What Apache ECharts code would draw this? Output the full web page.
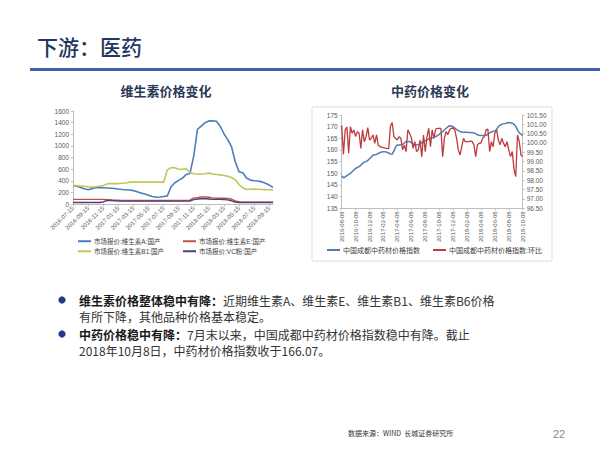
<!DOCTYPE html>
<html>
<head>
<meta charset="utf-8">
<script src="https://cdn.jsdelivr.net/npm/echarts@6/dist/echarts.min.js"></script>
<style>html,body{margin:0;padding:0;background:#fff}#c{width:600px;height:456px}</style>
</head>
<body>
<div id="c"></div>
<script>
// ---- Left chart: vitamin prices (semi-monthly) ----
const vitDates = [
'2016-07-15','2016-07-31','2016-08-15','2016-08-31','2016-09-15','2016-09-30','2016-10-15','2016-10-31','2016-11-15','2016-11-30','2016-12-15','2016-12-31',
'2017-01-15','2017-01-31','2017-02-15','2017-02-28','2017-03-15','2017-03-31','2017-04-15','2017-04-30','2017-05-15','2017-05-31','2017-06-15','2017-06-30',
'2017-07-15','2017-07-31','2017-08-15','2017-08-31','2017-09-15','2017-09-30','2017-10-15','2017-10-31','2017-11-15','2017-11-30','2017-12-15','2017-12-31',
'2018-01-15','2018-01-31','2018-02-15','2018-02-28','2018-03-15','2018-03-31','2018-04-15','2018-04-30','2018-05-15','2018-05-31','2018-06-15','2018-06-30',
'2018-07-15','2018-07-31','2018-08-15','2018-08-31','2018-09-15','2018-09-30'];
const vitA = [320,310,290,265,248,268,285,290,285,280,275,270,262,255,250,245,235,215,195,175,155,135,120,125,135,145,300,370,410,450,510,530,830,1290,1340,1400,1430,1430,1425,1340,1210,1110,990,730,560,540,450,415,405,400,385,360,330,290];
const vitE = [85,85,85,85,85,85,85,85,85,80,75,72,70,68,65,65,65,65,65,65,65,65,65,65,65,65,65,65,65,65,65,70,110,115,125,125,120,110,105,105,105,100,90,60,40,35,35,35,35,35,35,35,35,35];
const vitB1 = [320,320,315,310,300,295,300,310,320,350,355,355,355,360,365,380,380,380,380,380,380,380,380,380,380,590,630,625,600,600,610,545,525,520,520,525,535,520,510,505,495,480,460,420,340,280,255,258,260,258,255,252,250,248];
const vitC = [30,30,30,30,30,30,30,30,40,65,70,60,55,55,55,55,55,55,55,55,55,55,55,55,55,55,55,55,55,55,55,55,80,90,95,95,90,85,85,85,80,75,60,40,30,30,30,30,30,30,30,30,30,30];
const vitNames = ['市场报价:维生素A:国产','市场报价:维生素E:国产','市场报价:维生素B1:国产','市场报价:VC粉:国产'];

// ---- Right chart: Chengdu TCM price index (weekly-ish) ----
const tcmDates = [
'2016-08-08','2016-08-15','2016-08-22','2016-08-28','2016-09-08','2016-09-15','2016-09-22','2016-09-28','2016-10-08','2016-10-15','2016-10-22','2016-10-28',
'2016-11-08','2016-11-15','2016-11-22','2016-11-28','2016-12-08','2016-12-15','2016-12-22','2016-12-28',
'2017-01-08','2017-01-15','2017-01-22','2017-01-28','2017-02-08','2017-02-15','2017-02-22','2017-02-28','2017-03-08','2017-03-15','2017-03-22','2017-03-28',
'2017-04-08','2017-04-15','2017-04-22','2017-04-28','2017-05-08','2017-05-15','2017-05-22','2017-05-28','2017-06-08','2017-06-15','2017-06-22','2017-06-28',
'2017-07-08','2017-07-15','2017-07-22','2017-07-28','2017-08-08','2017-08-15','2017-08-22','2017-08-28','2017-09-08','2017-09-15','2017-09-22','2017-09-28',
'2017-10-08','2017-10-15','2017-10-22','2017-10-28','2017-11-08','2017-11-15','2017-11-22','2017-11-28','2017-12-08','2017-12-15','2017-12-22','2017-12-28',
'2018-01-08','2018-01-15','2018-01-22','2018-01-28','2018-02-08','2018-02-15','2018-02-22','2018-02-28','2018-03-08','2018-03-15','2018-03-22','2018-03-28',
'2018-04-08','2018-04-15','2018-04-22','2018-04-28','2018-05-08','2018-05-15','2018-05-22','2018-05-28','2018-06-08','2018-06-15','2018-06-22','2018-06-28',
'2018-07-08','2018-07-15','2018-07-22','2018-07-28','2018-08-08','2018-08-15','2018-08-22','2018-08-28','2018-09-08','2018-09-15','2018-09-22','2018-09-28',
'2018-10-08'];
const tcmIndex = [148.9,148.1,148.5,149.0,149.5,150.0,150.7,151.4,152.1,152.5,
152.9,153.5,154.3,154.8,155.0,155.5,156.2,157.0,157.8,158.0,
158.1,158.5,158.9,159.1,159.3,159.2,159.0,158.7,158.3,158.2,
159.5,161.5,162.1,162.1,162.2,162.4,163.0,163.6,163.6,163.6,
163.2,162.5,162.2,162.1,162.3,162.5,163.2,163.6,164.0,164.3,
164.8,165.0,165.2,165.4,165.7,166.2,166.7,167.3,167.9,168.6,
169.3,169.9,170.4,170.3,170.0,169.4,168.8,168.3,167.9,167.7,
167.6,167.6,167.6,167.5,167.5,167.4,167.3,167.0,166.5,166.3,
166.2,166.2,166.2,166.3,166.8,167.3,167.7,168.0,168.2,168.8,
170.0,170.6,171.0,171.3,171.4,171.6,171.8,171.7,171.5,171.0,
170.2,168.5,167.3,166.8,166.07];
const tcmRatio = [100.93,99.39,100.70,100.85,99.45,100.88,100.52,100.70,100.34,100.61,
100.52,99.71,100.70,100.07,100.34,100.82,100.16,100.25,100.43,99.98,
100.43,99.89,99.80,99.78,99.75,99.73,99.71,99.70,100.90,101.10,
100.34,100.25,100.16,100.34,100.25,99.63,99.89,99.54,100.70,100.52,
100.30,99.71,100.07,99.54,99.63,100.16,99.27,100.43,99.54,100.34,
100.79,99.80,100.70,100.25,100.75,100.78,100.78,100.78,99.27,100.25,
100.61,100.45,100.70,100.79,100.80,100.70,100.25,99.63,99.36,99.80,
100.25,100.07,100.07,100.07,100.10,100.07,99.90,99.27,99.90,99.98,
100.00,100.25,100.34,100.70,100.75,99.54,100.07,99.80,100.52,100.70,
100.16,99.90,100.25,99.98,99.80,100.07,99.63,99.27,99.54,98.60,
98.20,100.43,100.10,99.36,99.27];
const tcmNames = ['中国成都中药材价格指数','中国成都中药材价格指数:环比'];

const FONT = '"Liberation Sans","Noto Sans CJK SC",sans-serif';
const CJK = '"Noto Sans CJK SC","Noto Sans",sans-serif';
const axisGray = '#bfbfbf';
const labelColor = '#595959';

const chart = echarts.init(document.getElementById('c'), null, {renderer: 'svg'});

function lg(name, left, top, size) {
  return {data: [name], left: left, top: top, padding: 0, itemWidth: 13, itemHeight: 2, icon: 'rect',
    itemGap: 4, textStyle: {fontSize: size, color: '#404040', fontFamily: FONT, padding: [0,0,0,-2]}, selectedMode: false};
}
function line(name, data, color, w, xi, yi) {
  return {name: name, type: 'line', data: data, xAxisIndex: xi, yAxisIndex: yi, showSymbol: false, symbol: 'none',
    lineStyle: {color: color, width: w}, itemStyle: {color: color}, animation: false};
}
const bodyFont = '12px ' + CJK;
const boldFont = 'bold 12px ' + CJK;

chart.setOption({
  backgroundColor: '#fff',
  animation: false,
  textStyle: {fontFamily: FONT},
  grid: [
    {left: 73, top: 111, width: 200, height: 93.3},
    {left: 341.7, top: 115, width: 181, height: 93.3}
  ],
  legend: [
    lg(vitNames[0], 78, 238, 6.5), lg(vitNames[1], 183, 238, 6.5),
    lg(vitNames[2], 78, 248, 6.5), lg(vitNames[3], 183, 248, 6.5),
    lg(tcmNames[0], 327, 246.5, 7), lg(tcmNames[1], 433, 246.5, 7)
  ],
  xAxis: [
    {type: 'category', gridIndex: 0, data: vitDates, boundaryGap: false,
     axisLine: {lineStyle: {color: axisGray}}, axisTick: {interval: 3, length: 2, lineStyle: {color: axisGray}},
     axisLabel: {interval: 3, rotate: 45, fontSize: 6, color: labelColor, margin: 3}},
    {type: 'category', gridIndex: 1, data: tcmDates, boundaryGap: false,
     axisLine: {lineStyle: {color: axisGray}}, axisTick: {interval: 7, length: 2, lineStyle: {color: axisGray}},
     axisLabel: {interval: 7, rotate: 90, fontSize: 6, color: labelColor, margin: 3}}
  ],
  yAxis: [
    {type: 'value', gridIndex: 0, min: 0, max: 1600, interval: 200,
     axisLine: {show: true, lineStyle: {color: axisGray}}, axisTick: {show: true, length: 2, lineStyle: {color: axisGray}},
     splitLine: {show: false}, axisLabel: {fontSize: 6.5, color: labelColor, margin: 4, formatter: v => String(v)}},
    {type: 'value', gridIndex: 1, min: 135, max: 175, interval: 5, position: 'left',
     axisLine: {show: true, lineStyle: {color: axisGray}}, axisTick: {show: true, length: 2, lineStyle: {color: axisGray}},
     splitLine: {show: false}, axisLabel: {fontSize: 6.5, color: labelColor, margin: 4}},
    {type: 'value', gridIndex: 1, min: 96.5, max: 101.5, interval: 0.5, position: 'right',
     axisLine: {show: true, lineStyle: {color: axisGray}}, axisTick: {show: true, length: 2, lineStyle: {color: axisGray}},
     splitLine: {show: false}, axisLabel: {fontSize: 6.5, color: labelColor, margin: 4, formatter: v => v.toFixed(2)}}
  ],
  series: [
    line(vitNames[0], vitA, '#4A7EBB', 1.6, 0, 0),
    line(vitNames[1], vitE, '#C0504D', 1.4, 0, 0),
    line(vitNames[2], vitB1, '#BFC65A', 1.6, 0, 0),
    line(vitNames[3], vitC, '#4E3F7A', 1.4, 0, 0),
    line(tcmNames[0], tcmIndex, '#4F7DB0', 1.5, 1, 1),
    line(tcmNames[1], tcmRatio, '#BE3A3C', 1.3, 1, 2)
  ],
  graphic: [
    {type: 'text', left: 37, top: 35, style: {text: '下游：医药', fill: '#1F3864', font: '500 21px ' + CJK}},
    {type: 'rect', shape: {x: 30, y: 68, width: 570, height: 3}, style: {fill: '#4062A8'}},
    {type: 'text', x: 166, y: 90, style: {text: '维生素价格变化', fill: '#2B3A55', font: 'bold 13px ' + CJK, align: 'center', verticalAlign: 'middle'}},
    {type: 'text', x: 430, y: 90, style: {text: '中药价格变化', fill: '#2B3A55', font: 'bold 13px ' + CJK, align: 'center', verticalAlign: 'middle'}},
    {type: 'rect', shape: {x: 312, y: 107, width: 240, height: 154}, style: {fill: 'none', stroke: '#dcdcdc', lineWidth: 1}},
    {type: 'circle', shape: {cx: 62, cy: 300, r: 3.6}, style: {fill: '#1F3A8A'}},
    {type: 'circle', shape: {cx: 62, cy: 334, r: 3.6}, style: {fill: '#1F3A8A'}},
    {type: 'text', x: 79, y: 300, style: {
      text: '{b|维生素价格整体稳中有降：}{n|近期维生素A、维生素E、维生素B1、维生素B6价格}',
      verticalAlign: 'middle', lineHeight: 13,
      rich: {b: {font: boldFont, fill: '#1a1a1a', lineHeight: 13}, n: {font: bodyFont, fill: '#333', lineHeight: 13}}}},
    {type: 'text', x: 79, y: 316, style: {text: '有所下降，其他品种价格基本稳定。', verticalAlign: 'middle', lineHeight: 13, fill: '#333', font: bodyFont}},
    {type: 'text', x: 79, y: 334, style: {
      text: '{b|中药价格稳中有降：}{n|7月末以来，中国成都中药材价格指数稳中有降。截止}',
      verticalAlign: 'middle', lineHeight: 13,
      rich: {b: {font: boldFont, fill: '#1a1a1a', lineHeight: 13}, n: {font: bodyFont, fill: '#333', lineHeight: 13}}}},
    {type: 'text', x: 79, y: 350, style: {text: '2018年10月8日，中药材价格指数收于166.07。', verticalAlign: 'middle', lineHeight: 13, fill: '#333', font: bodyFont}},
    {type: 'text', x: 348, y: 433, style: {text: '数据来源：WIND  长城证券研究所', verticalAlign: 'middle', fill: '#333', font: '7px ' + CJK}},
    {type: 'text', x: 553, y: 434, style: {text: '22', verticalAlign: 'middle', fill: '#8c8c8c', font: '11px ' + FONT}}
  ]
});
</script>
</body>
</html>
